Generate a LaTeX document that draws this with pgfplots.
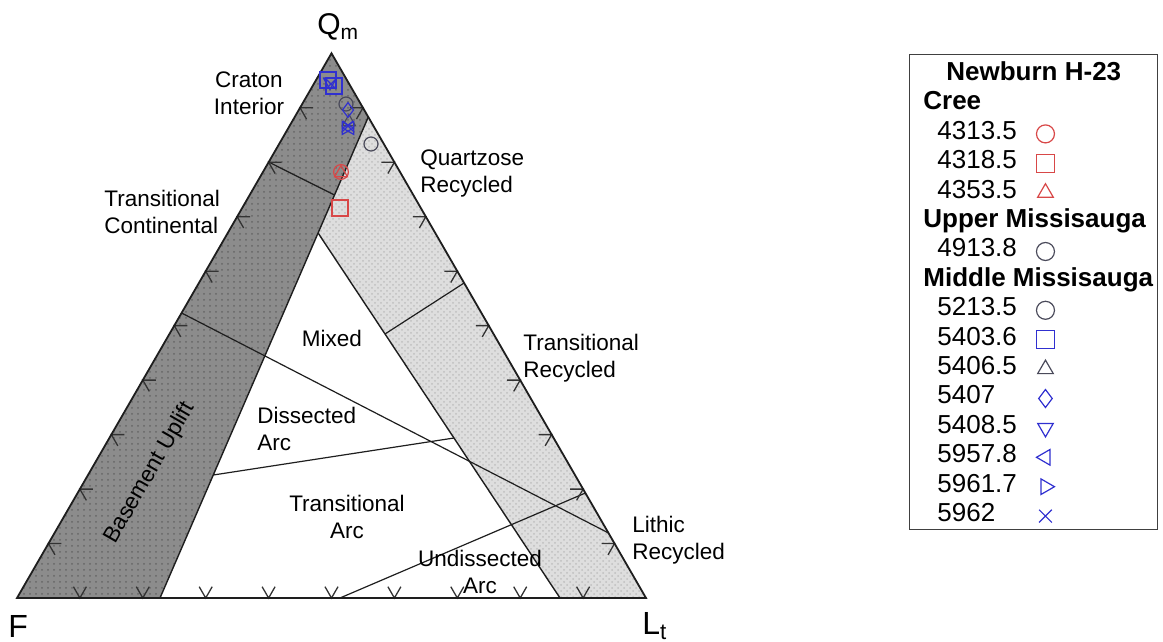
\documentclass[border=0pt]{standalone}
\usepackage{fontspec}
\setmainfont{Liberation Sans}
\usepackage{pgfplots}
\pgfplotsset{compat=1.18}
\usetikzlibrary{patterns}

\definecolor{darkband}{HTML}{8C8C8C}
\definecolor{lightband}{HTML}{DEDEDE}
\definecolor{edgec}{HTML}{1E1E1E}
\definecolor{tickc}{HTML}{333333}
\definecolor{mred}{HTML}{D84848}
\definecolor{mblue}{HTML}{3030D0}
\definecolor{mgray}{HTML}{4A4A5A}

\newcommand{\lab}{\fontsize{11.25}{13.5}\selectfont}
\newcommand{\nb}[1]{\makebox[46.75pt][l]{\hspace{7pt}#1}}
\newcommand{\hd}[1]{\makebox[46.75pt][l]{\textbf{#1}}}

\begin{document}
\begin{tikzpicture}
\begin{axis}[
  scale only axis, width=581.5pt, height=321pt,
  xmin=0, xmax=1163, ymin=0, ymax=642, y dir=reverse,
  hide axis, clip=false,
  legend plot pos=right,
  legend cell align=left,
  legend image post style={mark size=4.5pt},
  legend style={at={(axis cs:923,60)}, anchor=north west, draw=none, fill=none,
    inner sep=0pt, row sep=0pt, column sep=5.75pt,
    font=\fontsize{13}{14.7}\selectfont,
    nodes={inner sep=0pt, text height=10pt, text depth=4.7pt}},
]
% invisible frame for bounding box
\path (axis cs:0,0) (axis cs:1163,642);

% dark band (continental block)
\addplot[draw=none, fill=darkband, postaction={pattern=dots, pattern color=black!60}, forget plot]
  coordinates {(17,598) (331.5,53.3) (368.3,117) (160,598)} -- cycle;
% light band (recycled orogen)
\addplot[draw=none, fill=lightband, postaction={pattern=crosshatch dots, pattern color=black!25}, forget plot]
  coordinates {(318.1,233) (368.3,117) (646,598) (560,598)} -- cycle;

% field boundaries
\addplot[edgec, line width=0.7pt, forget plot] coordinates {(368.3,117) (160,598)};
\addplot[edgec, line width=0.7pt, forget plot] coordinates {(318.1,233) (560,598)};
\addplot[edgec, line width=0.6pt, forget plot] coordinates {(268.6,162) (334.5,195)};
\addplot[edgec, line width=0.6pt, forget plot] coordinates {(181.6,313) (608.5,533)};
\addplot[edgec, line width=0.6pt, forget plot] coordinates {(385,334) (464.1,283)};
\addplot[edgec, line width=0.6pt, forget plot] coordinates {(213.3,475) (454,438)};
\addplot[edgec, line width=0.6pt, forget plot] coordinates {(340,598) (585.4,493)};

% tick marks (10 % steps)
\addplot[tickc, line width=0.65pt, unbounded coords=jump, forget plot] coordinates {
 (73.4,586.7) (79.9,598) (86.4,586.7) (nan,nan)
 (136.3,586.7) (142.8,598) (149.3,586.7) (nan,nan)
 (199.2,586.7) (205.7,598) (212.2,586.7) (nan,nan)
 (262.1,586.7) (268.6,598) (275.1,586.7) (nan,nan)
 (325.0,586.7) (331.5,598) (338.0,586.7) (nan,nan)
 (387.9,586.7) (394.4,598) (400.9,586.7) (nan,nan)
 (450.8,586.7) (457.3,598) (463.8,586.7) (nan,nan)
 (513.7,586.7) (520.2,598) (526.7,586.7) (nan,nan)
 (576.6,586.7) (583.1,598) (589.6,586.7) (nan,nan)
 (61.45,543.5) (48.45,543.5) (54.95,554.8) (nan,nan)
 (92.9,489.1) (79.9,489.1) (86.4,500.4) (nan,nan)
 (124.35,434.6) (111.35,434.6) (117.85,445.9) (nan,nan)
 (155.8,380.1) (142.8,380.1) (149.3,391.4) (nan,nan)
 (187.25,325.6) (174.25,325.6) (180.75,336.9) (nan,nan)
 (218.7,271.2) (205.7,271.2) (212.2,282.5) (nan,nan)
 (250.15,216.7) (237.15,216.7) (243.65,228.0) (nan,nan)
 (281.6,162.2) (268.6,162.2) (275.1,173.5) (nan,nan)
 (313.05,107.8) (300.05,107.8) (306.55,119.1) (nan,nan)
 (601.55,543.5) (614.55,543.5) (608.05,554.8) (nan,nan)
 (570.1,489.1) (583.1,489.1) (576.6,500.4) (nan,nan)
 (538.65,434.6) (551.65,434.6) (545.15,445.9) (nan,nan)
 (507.2,380.1) (520.2,380.1) (513.7,391.4) (nan,nan)
 (475.75,325.6) (488.75,325.6) (482.25,336.9) (nan,nan)
 (444.3,271.2) (457.3,271.2) (450.8,282.5) (nan,nan)
 (412.85,216.7) (425.85,216.7) (419.35,228.0) (nan,nan)
 (381.4,162.2) (394.4,162.2) (387.9,173.5) (nan,nan)
 (349.95,107.8) (362.95,107.8) (356.45,119.1)
};

% outer triangle
\addplot[edgec, line width=0.9pt, forget plot] coordinates {(17,598) (331.5,53.3) (646,598)} -- cycle;

% labels
\node[font=\lab, align=center] at (axis cs:249,93) {Craton\\Interior};
\node[font=\lab, align=left, anchor=west, inner sep=0pt] at (axis cs:420,173.5) {Quartzose\\Recycled};
\node[font=\lab, align=left, anchor=west, inner sep=0pt] at (axis cs:104,211.5) {Transitional\\Continental};
\node[font=\lab] at (axis cs:332,338) {Mixed};
\node[font=\lab, align=left, anchor=west, inner sep=0pt] at (axis cs:523,358) {Transitional\\Recycled};
\node[font=\lab, align=left, anchor=west, inner sep=0pt] at (axis cs:257,429) {Dissected\\Arc};
\node[font=\lab, rotate=60] at (axis cs:150,473) {Basement Uplift};
\node[font=\lab, align=center] at (axis cs:347,517) {Transitional\\Arc};
\node[font=\lab, align=left, anchor=west, inner sep=0pt] at (axis cs:632,540) {Lithic\\Recycled};
\node[font=\lab, align=center] at (axis cs:480,572) {Undissected\\Arc};
\node[font=\fontsize{15}{18}\selectfont, anchor=base west, inner sep=0pt] at (axis cs:317,35) {Q\textsubscript{m}};
\node[font=\fontsize{16}{19}\selectfont, anchor=base west, inner sep=0pt] at (axis cs:8,637) {F};
\node[font=\fontsize{16}{19}\selectfont, anchor=base west, inner sep=0pt] at (axis cs:642,634) {L\textsubscript{t}};

% legend frame
\draw[black!75, line width=0.5pt] (axis cs:909,55) rectangle (axis cs:1157,529);

% legend entries and data
\addlegendimage{empty legend}\addlegendentry{\makebox[46.75pt][l]{\hspace{11.5pt}\textbf{Newburn H-23}}}
\addlegendimage{empty legend}\addlegendentry{\hd{Cree}}
\addplot[only marks, mark=o, mred, mark size=3.7pt, line width=0.6pt] coordinates {(341,172)};
\addlegendentry{\nb{4313.5}}
\addplot[only marks, mark=square, mred, mark size=4pt, line width=0.6pt] coordinates {(340,208)};
\addlegendentry{\nb{4318.5}}
\addplot[only marks, mark=triangle, mred, mark size=3.7pt, line width=0.6pt] coordinates {(341,173)};
\addlegendentry{\nb{4353.5}}
\addlegendimage{empty legend}\addlegendentry{\hd{Upper Missisauga}}
\addplot[only marks, mark=o, mgray, mark size=3.5pt, line width=0.6pt] coordinates {(371,144)};
\addlegendentry{\nb{4913.8}}
\addlegendimage{empty legend}\addlegendentry{\hd{Middle Missisauga}}
\addplot[only marks, mark=o, mgray, mark size=3.5pt, line width=0.6pt] coordinates {(346,104)};
\addlegendentry{\nb{5213.5}}
\addplot[only marks, mark=square, mblue, mark size=4pt, line width=0.6pt] coordinates {(328,80) (334,86)};
\addlegendentry{\nb{5403.6}}
\addplot[only marks, mark=triangle, mgray, mark size=3.7pt, line width=0.6pt] coordinates {(349,122)};
\addlegendentry{\nb{5406.5}}
\addplot[only marks, mark=diamond, mblue, mark size=3.7pt, line width=0.6pt] coordinates {(348,110)};
\addlegendentry{\nb{5407}}
\addplot[only marks, mark=triangle, mark options={rotate=180}, mblue, mark size=3.7pt, line width=0.6pt] coordinates {(330,82)};
\addlegendentry{\nb{5408.5}}
\addplot[only marks, mark=triangle, mark options={rotate=90}, mblue, mark size=3.7pt, line width=0.6pt] coordinates {(350,128)};
\addlegendentry{\nb{5957.8}}
\addplot[only marks, mark=triangle, mark options={rotate=-90}, mblue, mark size=3.7pt, line width=0.6pt] coordinates {(346,128)};
\addlegendentry{\nb{5961.7}}
\addplot[only marks, mark=x, mblue, mark size=3.7pt, line width=0.6pt] coordinates {(331,84) (348,126)};
\addlegendentry{\nb{5962}}
\end{axis}
\end{tikzpicture}
\end{document}
